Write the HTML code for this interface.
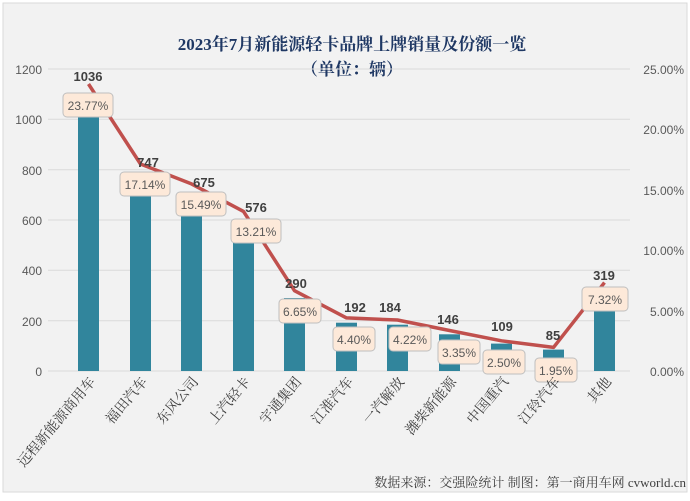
<!DOCTYPE html>
<html><head><meta charset="utf-8"><style>
body{margin:0;background:#fff}
svg text{font-family:"Liberation Sans","Noto Sans CJK SC",sans-serif}
.sf{font-family:"Liberation Serif","Noto Serif CJK SC",serif}
</style></head><body>
<svg width="690" height="496" viewBox="0 0 690 496" xmlns="http://www.w3.org/2000/svg">
<rect x="0" y="0" width="690" height="496" fill="#ffffff"/>
<rect x="3" y="3" width="684" height="489" fill="#f2f2f2" stroke="#d9d9d9"/>
<text x="352" y="50" text-anchor="middle" font-size="17" font-weight="bold" fill="#1f3864" class="sf">2023年7月新能源轻卡品牌上牌销量及份额一览</text>
<text x="352" y="75" text-anchor="middle" font-size="17" font-weight="bold" fill="#1f3864" class="sf">（单位：辆）</text>
<g stroke="#d9d9d9" stroke-width="1">
<line x1="48" y1="69" x2="630" y2="69"/><line x1="48" y1="119.3" x2="630" y2="119.3"/><line x1="48" y1="169.7" x2="630" y2="169.7"/><line x1="48" y1="220" x2="630" y2="220"/><line x1="48" y1="270.3" x2="630" y2="270.3"/><line x1="48" y1="320.7" x2="630" y2="320.7"/><line x1="48" y1="371" x2="630" y2="371"/>
</g>
<g font-size="12" fill="#595959" text-anchor="end">
<text x="42" y="74">1200</text><text x="42" y="124">1000</text><text x="42" y="175">800</text><text x="42" y="225">600</text><text x="42" y="275">400</text><text x="42" y="326">200</text><text x="42" y="376">0</text>
</g>
<g font-size="12" fill="#595959" text-anchor="end">
<text x="684" y="74">25.00%</text><text x="684" y="134">20.00%</text><text x="684" y="195">15.00%</text><text x="684" y="255">10.00%</text><text x="684" y="316">5.00%</text><text x="684" y="376">0.00%</text>
</g>
<g fill="#31859c">
<rect x="78" y="110.2" width="21" height="260.8"/>
<rect x="130" y="183" width="21" height="188"/>
<rect x="181" y="201.1" width="21" height="169.9"/>
<rect x="233" y="226" width="21" height="145"/>
<rect x="284" y="298" width="21" height="73"/>
<rect x="336" y="322.7" width="21" height="48.3"/>
<rect x="387" y="324.7" width="21" height="46.3"/>
<rect x="439" y="334.3" width="21" height="36.7"/>
<rect x="491" y="343.6" width="21" height="27.4"/>
<rect x="543" y="349.6" width="21" height="21.4"/>
<rect x="594" y="290.7" width="21" height="80.3"/>
</g>
<polyline fill="none" stroke="#c0504d" stroke-width="3.5" stroke-linejoin="round" points="88.5,84 140.5,164 191.5,183.9 243.5,211.4 294.5,290.7 346.5,317.9 397.5,320 449.5,330.5 501.5,340.8 553.5,347.4 604.5,282.6"/>
<g font-size="13" font-weight="bold" fill="#404040" text-anchor="middle">
<text x="88" y="81">1036</text><text x="148" y="167">747</text><text x="204" y="187">675</text><text x="256" y="212">576</text><text x="296" y="288">290</text><text x="355" y="312">192</text><text x="390" y="312">184</text><text x="448" y="324">146</text><text x="502" y="331">109</text><text x="553" y="340">85</text><text x="604" y="280">319</text>
</g>
<g font-size="12" fill="#595959" text-anchor="middle">
<g><rect x="63" y="93" width="50" height="24" rx="4" fill="#fde9d9" stroke="#bfbfbf"/><text x="88" y="110">23.77%</text></g>
<g><rect x="120" y="172" width="50" height="24" rx="4" fill="#fde9d9" stroke="#bfbfbf"/><text x="145" y="189">17.14%</text></g>
<g><rect x="176" y="192" width="50" height="24" rx="4" fill="#fde9d9" stroke="#bfbfbf"/><text x="201" y="209">15.49%</text></g>
<g><rect x="231" y="219" width="50" height="24" rx="4" fill="#fde9d9" stroke="#bfbfbf"/><text x="256" y="236">13.21%</text></g>
<g><rect x="279" y="299" width="42" height="24" rx="4" fill="#fde9d9" stroke="#bfbfbf"/><text x="300" y="316">6.65%</text></g>
<g><rect x="333" y="327" width="42" height="24" rx="4" fill="#fde9d9" stroke="#bfbfbf"/><text x="354" y="344">4.40%</text></g>
<g><rect x="389" y="327" width="42" height="24" rx="4" fill="#fde9d9" stroke="#bfbfbf"/><text x="410" y="344">4.22%</text></g>
<g><rect x="438" y="340" width="42" height="24" rx="4" fill="#fde9d9" stroke="#bfbfbf"/><text x="459" y="357">3.35%</text></g>
<g><rect x="483" y="350" width="42" height="24" rx="4" fill="#fde9d9" stroke="#bfbfbf"/><text x="504" y="367">2.50%</text></g>
<g><rect x="535" y="358" width="42" height="24" rx="4" fill="#fde9d9" stroke="#bfbfbf"/><text x="556" y="375">1.95%</text></g>
<g><rect x="582" y="287" width="46" height="24" rx="4" fill="#fde9d9" stroke="#bfbfbf"/><text x="605" y="304">7.32%</text></g>
</g>
<g font-size="14" fill="#404040" text-anchor="end" class="sf">
<text class="sf" transform="translate(96,382) rotate(-50)">远程新能源商用车</text>
<text class="sf" transform="translate(148,382) rotate(-50)">福田汽车</text>
<text class="sf" transform="translate(199,382) rotate(-50)">东风公司</text>
<text class="sf" transform="translate(251,382) rotate(-50)">上汽轻卡</text>
<text class="sf" transform="translate(302,382) rotate(-50)">宇通集团</text>
<text class="sf" transform="translate(354,382) rotate(-50)">江淮汽车</text>
<text class="sf" transform="translate(405,382) rotate(-50)">一汽解放</text>
<text class="sf" transform="translate(457,382) rotate(-50)">潍柴新能源</text>
<text class="sf" transform="translate(509,382) rotate(-50)">中国重汽</text>
<text class="sf" transform="translate(561,382) rotate(-50)">江铃汽车</text>
<text class="sf" transform="translate(612,382) rotate(-50)">其他</text>
</g>
<text x="686" y="487" text-anchor="end" font-size="13" fill="#404040" class="sf">数据来源：交强险统计 制图：第一商用车网 cvworld.cn</text>
</svg>
</body></html>
